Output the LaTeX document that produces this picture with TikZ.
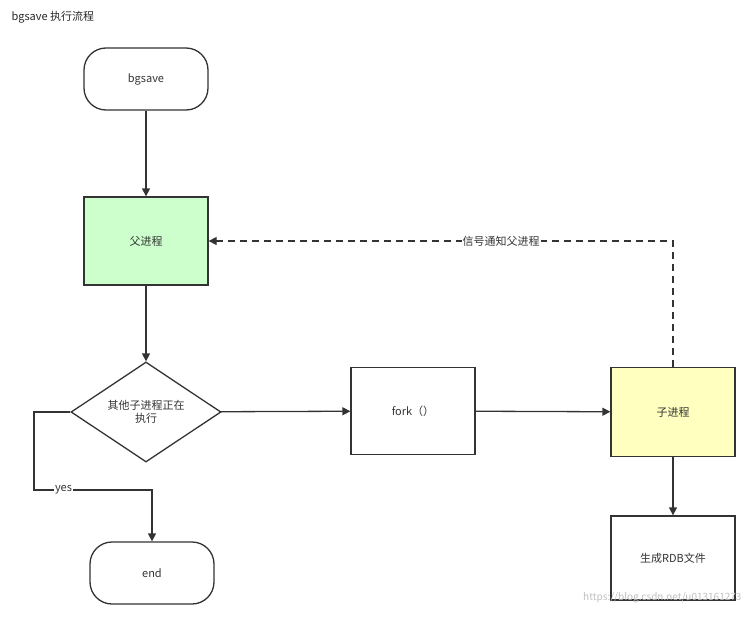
\documentclass[tikz,border=0pt]{standalone}
\usepackage{fontspec}
\setmainfont{Noto Sans CJK SC}
\usetikzlibrary{shapes.geometric,arrows.meta}
\begin{document}
\begin{tikzpicture}[x=1pt,y=-1pt,
  box/.style={draw=black!80,line width=1.3pt,minimum width=124pt,minimum height=87pt,font=\fontsize{11}{13}\selectfont,text=black!80},
  term/.style={box,rounded corners=22pt,minimum height=62pt},
  arr/.style={draw=black!80,line width=1.3pt,-{Triangle[length=8pt,width=8pt]}},
  lbl/.style={fill=white,inner sep=1pt,font=\fontsize{11}{13}\selectfont,text=black!80}]
\useasboundingbox (0,0) rectangle (749,616);
\node[anchor=west,font=\fontsize{11}{13}\selectfont,text=black!85] (title) at (8,17) {bgsave 执行流程};
\node[term] (bg) at (146,79) {bgsave};
\node[box,fill={rgb,255:red,204;green,255;blue,204},minimum height=88pt] (fu) at (146,241) {父进程};
\node[diamond,aspect=1.5,draw=black!80,line width=1.3pt,minimum width=150pt,minimum height=100pt,inner sep=0pt,align=center,font=\fontsize{11}{13}\selectfont,text=black!80] (dm) at (146,412) {其他子进程正在\\执行};
\node[box] (fork) at (413,411) {fork（）};
\node[box,fill={rgb,255:red,255;green,255;blue,192},minimum height=89pt] (zi) at (673,412) {子进程};
\node[box,minimum height=84pt] (rdb) at (673,558) {生成RDB文件};
\node[term] (end) at (152,573) {end};
\node[anchor=east,font=\fontsize{10}{12}\selectfont,text=black!25] (wm) at (745,598) {https://blog.csdn.net/u013161273};
\coordinate (c1) at (34,412);
\coordinate (c2) at (34,490);
\coordinate (c3) at (152,490);
\coordinate (c4) at (673,241);
\draw[arr] (bg) -- (fu);
\draw[arr] (fu) -- (dm);
\draw[arr] (dm) -- (fork);
\draw[arr] (fork) -- (zi);
\draw[arr] (zi) -- (rdb);
\draw[arr,dashed,dash pattern=on 7pt off 5pt] (zi.north) -- (c4) -- node[lbl,pos=0.37]{信号通知父进程} (fu.east);
\draw[arr] (dm.west) -- (c1) -- (c2) -- node[lbl,pos=0.25]{yes} (c3) -- (end.north);
\end{tikzpicture}
\end{document}
